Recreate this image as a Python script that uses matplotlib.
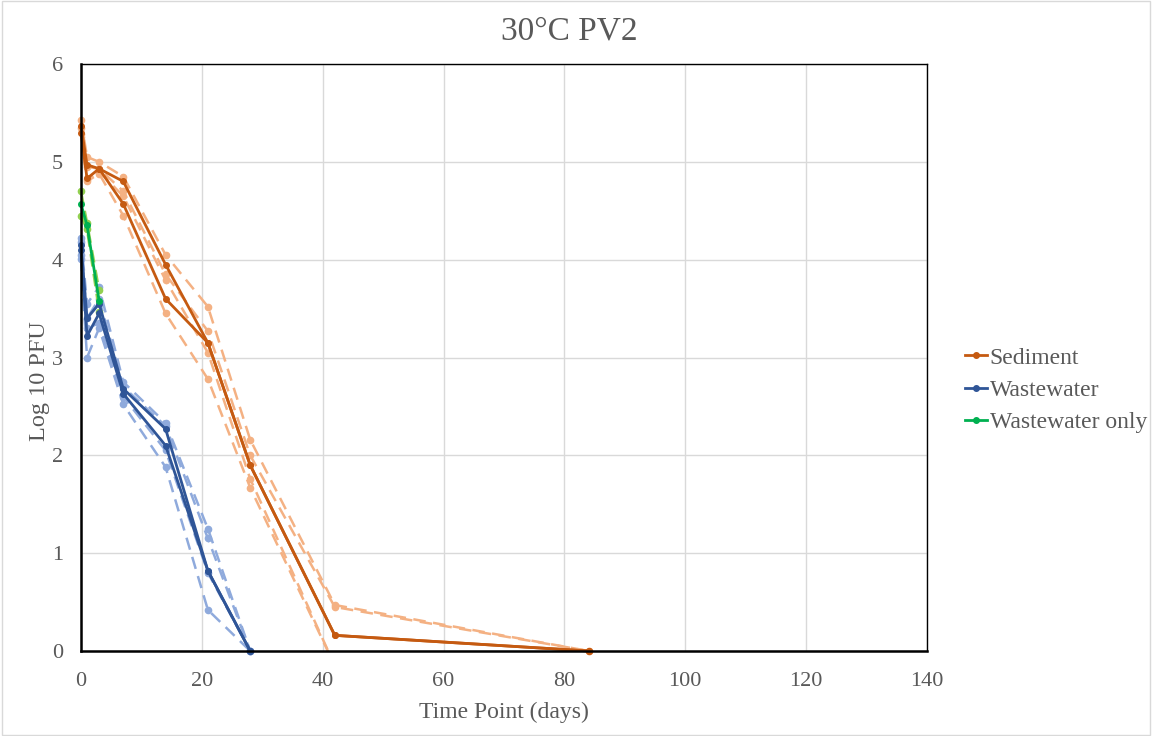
import numpy as np
import matplotlib.pyplot as plt
from matplotlib.patches import Rectangle

# Data (log10 PFU)
days_sed = [0, 1, 3, 7, 14, 21, 28, 42, 84]
days_ww = [0, 1, 3, 7, 14, 21, 28]
days_wwo = [0, 1, 3]

sed_mean_a = [5.37, 4.97, 4.93, 4.80, 3.95, 3.15, 1.90, 0.16, 0.0]
sed_mean_b = [5.30, 4.83, 4.93, 4.57, 3.60, 3.15, 1.90, 0.16, 0.0]
sed_reps = [
    [5.43, 5.05, 5.00, 4.85, 4.05, 3.52, 2.16, 0.47, 0.0],
    [5.35, 4.95, 4.93, 4.70, 3.85, 3.27, 2.00, 0.45, 0.0],
    [5.28, 4.82, 4.90, 4.65, 3.79, 3.05, 1.76, -0.15, -0.15],
    [5.25, 4.80, 4.88, 4.45, 3.45, 2.78, 1.67, -0.15, -0.15],
]

ww_mean_a = [4.15, 3.40, 3.55, 2.68, 2.27, 0.82, 0.0]
ww_mean_b = [4.10, 3.22, 3.45, 2.63, 2.10, 0.82, 0.0]
ww_reps = [
    [4.22, 3.55, 3.72, 2.75, 2.33, 1.25, 0.0],
    [4.18, 3.40, 3.60, 2.70, 2.30, 1.15, 0.0],
    [4.05, 3.30, 3.35, 2.60, 2.05, 0.80, 0.0],
    [4.01, 3.00, 3.30, 2.52, 1.88, 0.42, 0.0],
]

wwo_mean = [4.57, 4.35, 3.58]
wwo_reps = [
    [4.70, 4.38, 3.69],
    [4.45, 4.31, 3.47],
]

# Colours
sed_dark, sed_light = '#C55A11', '#F4B183'
ww_dark, ww_light = '#2F5597', '#8FAADC'
wwo_dark, wwo_light = '#00B050', '#92D050'

plt.rcParams['font.family'] = ['Liberation Serif', 'DejaVu Serif']
txt = '#595959'

fig = plt.figure(figsize=(11.52, 7.36), dpi=100)
ax = fig.add_axes([0.0703, 0.1155, 0.7344, 0.7975])
fig.patches.append(Rectangle((0.002, 0.002), 0.996, 0.996, transform=fig.transFigure,
                             fill=False, edgecolor='#D9D9D9', lw=1))

dash = dict(ls=(0, (5, 3)), lw=1.8, marker='o', ms=4.5)
solid = dict(ls='-', lw=2.0, marker='o', ms=4, clip_on=False)

for r in sed_reps:
    # replicates that drop below the axis are clipped at 0
    ax.plot(days_sed, r, color=sed_light, clip_on=min(r) < 0, **dash)
for r in ww_reps:
    ax.plot(days_ww, r, color=ww_light, clip_on=False, **dash)
for r in wwo_reps:
    ax.plot(days_wwo, r, color=wwo_light, clip_on=False, **dash)

ax.plot(days_sed, sed_mean_a, color=sed_dark, label='Sediment', **solid)
ax.plot(days_sed, sed_mean_b, color=sed_dark, **solid)
ax.plot(days_ww, ww_mean_a, color=ww_dark, label='Wastewater', **solid)
ax.plot(days_ww, ww_mean_b, color=ww_dark, **solid)
ax.plot(days_wwo, wwo_mean, color=wwo_dark, label='Wastewater only', **solid)

ax.set_xlim(0, 140)
ax.set_ylim(0, 6)
ax.set_xticks(np.arange(0, 141, 20))
ax.set_yticks(np.arange(0, 7, 1))
ax.grid(True, color='#D9D9D9', lw=1)
ax.set_axisbelow(True)
ax.tick_params(length=0, labelsize=16, colors=txt)
ax.tick_params(axis='x', pad=15)
ax.tick_params(axis='y', pad=13)
for s in ax.spines.values():
    s.set_color('black')
    s.set_linewidth(1.0)
ax.spines['left'].set_linewidth(1.8)
ax.spines['bottom'].set_linewidth(1.8)

fig.text(0.494, 0.958, '30°C PV2', fontsize=24, color=txt, ha='center', va='center')
ax.set_xlabel('Time Point (days)', fontsize=17, color=txt, labelpad=8)
ax.set_ylabel('Log 10 PFU', fontsize=17.5, color=txt)
ax.yaxis.set_label_coords(-0.037, 0.46)

leg = fig.legend(loc='center left', bbox_to_anchor=(0.819, 0.47), frameon=False,
                 fontsize=17, handlelength=0.95, handletextpad=0.1, labelspacing=0.45)
for t in leg.get_texts():
    t.set_color(txt)

plt.savefig('out.png', dpi=100)
